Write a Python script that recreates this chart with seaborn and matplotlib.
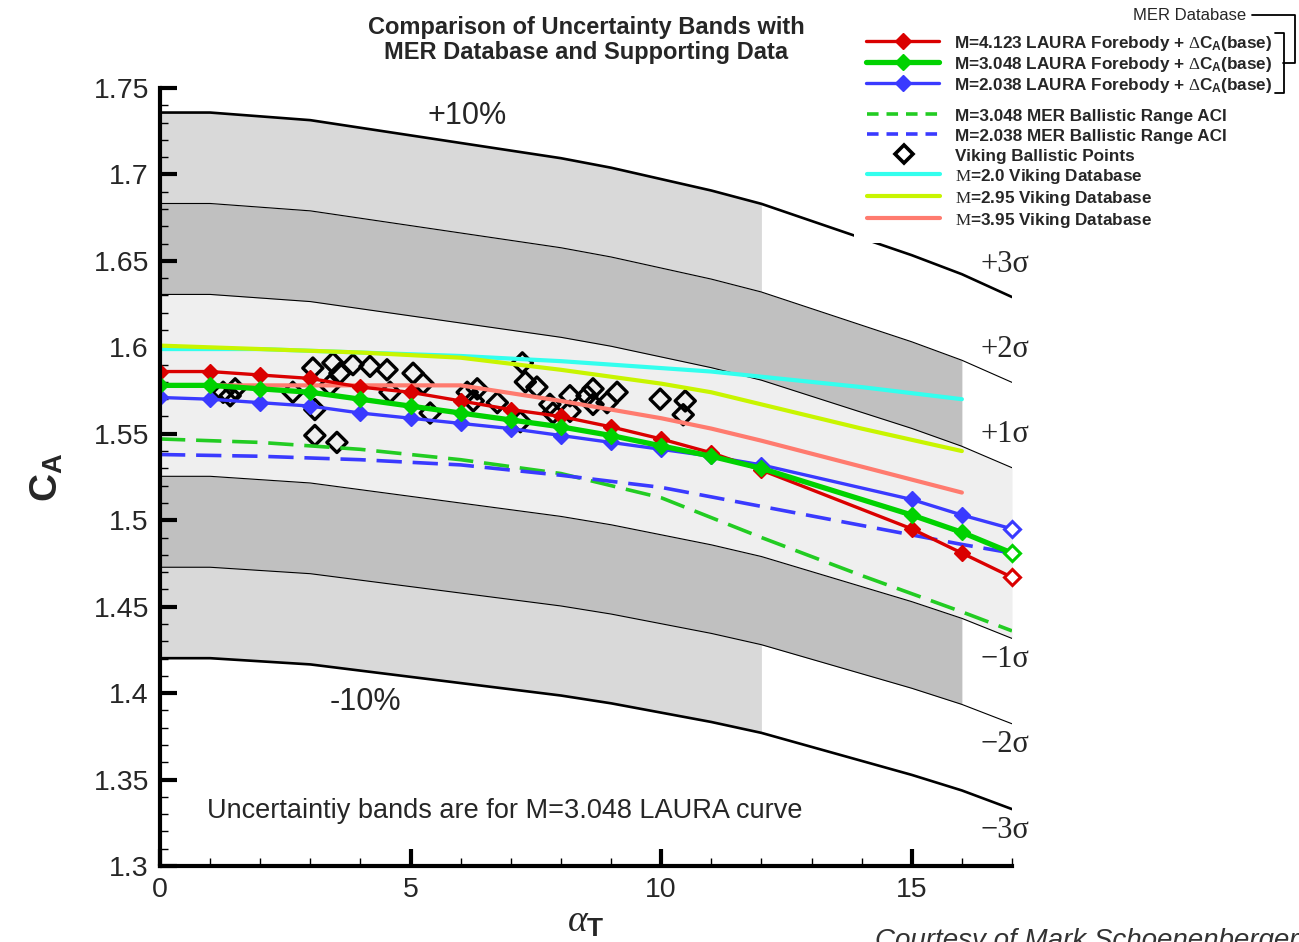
import numpy as np
import matplotlib
matplotlib.use("Agg")
import matplotlib.pyplot as plt
import seaborn as sns
from matplotlib.lines import Line2D
from matplotlib.ticker import MultipleLocator, FormatStrFormatter

# ---- data ----
LAURA_ALPHA = [0, 1, 2, 3, 4, 5, 6, 7, 8, 9, 10, 11, 12, 15, 16, 17]
CA_LAURA_M4123 = [1.586, 1.586, 1.584, 1.582, 1.577, 1.574, 1.569, 1.564, 1.560, 1.554,
                  1.547, 1.539, 1.529, 1.495, 1.481, 1.467]
CA_LAURA_M3048 = [1.578, 1.578, 1.576, 1.574, 1.570, 1.566, 1.562, 1.558, 1.554, 1.549,
                  1.543, 1.537, 1.530, 1.503, 1.493, 1.481]
CA_LAURA_M2038 = [1.571, 1.570, 1.568, 1.566, 1.562, 1.559, 1.556, 1.553, 1.549, 1.545,
                  1.541, 1.537, 1.532, 1.512, 1.503, 1.495]

ACI_ALPHA = [0, 2, 4, 6, 8, 10, 12, 14, 16, 17]
CA_ACI_M3048 = [1.547, 1.545, 1.541, 1.535, 1.527, 1.513, 1.490, 1.468, 1.447, 1.436]
CA_ACI_M2038 = [1.538, 1.537, 1.535, 1.532, 1.526, 1.519, 1.508, 1.497, 1.486, 1.481]

VIK_ALPHA = [0, 2, 4, 6, 8, 10, 11, 12, 14, 16]
CA_VIK_M20 = [1.599, 1.599, 1.597, 1.595, 1.592, 1.588, 1.586, 1.583, 1.577, 1.570]
CA_VIK_M295 = [1.601, 1.599, 1.597, 1.594, 1.587, 1.579, 1.574, 1.567, 1.553, 1.540]
CA_VIK_M395 = [1.578, 1.578, 1.578, 1.578, 1.569, 1.559, 1.553, 1.546, 1.531, 1.516]

# Viking ballistic range points
VB_ALPHA = [1.26, 1.50, 1.40, 2.65, 3.05, 3.09, 3.09, 3.53, 3.45, 3.59, 3.39, 3.85, 4.19,
            4.53, 5.05, 5.25, 4.59, 5.39, 6.13, 6.33, 6.25, 6.73, 7.23, 7.29, 7.52, 7.19,
            7.78, 7.84, 8.18, 8.18, 8.52, 8.64, 8.64, 9.12, 8.92, 9.98, 10.48, 10.44]
VB_CA = [1.574, 1.576, 1.572, 1.574, 1.588, 1.564, 1.549, 1.545, 1.591, 1.585, 1.578, 1.590,
         1.589, 1.587, 1.585, 1.579, 1.574, 1.562, 1.574, 1.576, 1.569, 1.568, 1.591, 1.580,
         1.577, 1.557, 1.567, 1.562, 1.572, 1.563, 1.572, 1.576, 1.567, 1.574, 1.568, 1.570,
         1.569, 1.561]

BAND_3SIGMA = 0.10   # 3 sigma = 10 % of the M=3.048 LAURA curve
Y_TICKS = [1.3, 1.35, 1.4, 1.45, 1.5, 1.55, 1.6, 1.65, 1.7, 1.75]
X_TICKS = [0, 5, 10, 15]

RED = "#DA0000"
GREEN = "#00D200"
BLUE = "#3A3AFF"
GREEN_D = "#22CC22"
CYAN = "#33FFEE"
YELLOW = "#C8F500"
SALMON = "#FF7B6F"

sns.set_style("white")
plt.rcParams['font.family'] = ['Liberation Sans', 'DejaVu Sans']
plt.rcParams['mathtext.fontset'] = 'custom'
plt.rcParams['mathtext.rm'] = 'Liberation Serif'
plt.rcParams['mathtext.it'] = 'Liberation Serif:italic'
plt.rcParams['mathtext.bf'] = 'Liberation Sans:bold'

W, H = 1299, 942
fig = plt.figure(figsize=(W / 100, H / 100), dpi=100)
ax = fig.add_axes([160 / W, 1 - 866 / H, (1012 - 160) / W, (866 - 88) / H])


def px(x, y):
    """pixel position -> figure fraction"""
    return x / W, 1 - y / H


# ---- uncertainty bands around the M=3.048 LAURA curve ----
xa = np.array(LAURA_ALPHA, dtype=float)
center = np.array(CA_LAURA_M3048)
band = {k: center * (1 + k * BAND_3SIGMA / 3) for k in (-3, -2, -1, 1, 2, 3)}

ax.fill_between(xa, band[-1], band[1], color="#EFEFEF", lw=0, zorder=0)
for s in (1, -1):
    ax.fill_between(xa, band[s], band[2 * s], where=xa <= 16, color="#C0C0C0", lw=0, zorder=0)
    ax.fill_between(xa, band[2 * s], band[3 * s], where=xa <= 12, color="#D9D9D9", lw=0, zorder=0)

for k, yb in band.items():
    sns.lineplot(x=xa, y=yb, ax=ax, color="black", lw=1.9 if abs(k) == 3 else 0.8,
                 estimator=None, zorder=1)

# ---- data ----
sns.scatterplot(x=VB_ALPHA, y=VB_CA, ax=ax, marker="D", s=105, facecolors="none",
                edgecolor="black", linewidth=2.4, zorder=3)

for yv, c in [(CA_VIK_M20, CYAN), (CA_VIK_M295, YELLOW), (CA_VIK_M395, SALMON)]:
    sns.lineplot(x=VIK_ALPHA, y=yv, ax=ax, color=c, lw=3.0, estimator=None, zorder=4)

for yv, c in [(CA_ACI_M3048, GREEN_D), (CA_ACI_M2038, BLUE)]:
    sns.lineplot(x=ACI_ALPHA, y=yv, ax=ax, color=c, lw=2.6, estimator=None, zorder=4,
                 linestyle=(0, (7, 3)))

for yv, c, lw in [(CA_LAURA_M2038, BLUE, 2.4), (CA_LAURA_M4123, RED, 2.4),
                  (CA_LAURA_M3048, GREEN, 3.8)]:
    sns.lineplot(x=LAURA_ALPHA, y=yv, ax=ax, color=c, lw=lw, marker="D", markersize=8,
                 markeredgecolor=c, markeredgewidth=1, estimator=None, zorder=5)
    ax.plot(LAURA_ALPHA[-1], yv[-1], marker="D", ms=8, mfc="white", mec=c, mew=2.2,
            zorder=6, clip_on=False)

# ---- axes ----
ax.set_xlim(0, 17)
ax.set_ylim(1.3, 1.75)
ax.set_facecolor("white")
for side in ("top", "right"):
    ax.spines[side].set_visible(False)
for side in ("left", "bottom"):
    ax.spines[side].set_linewidth(3)
    ax.spines[side].set_color("black")
    ax.spines[side].set_zorder(7)
ax.set_xticks(X_TICKS)
ax.set_yticks(Y_TICKS)
ax.xaxis.set_minor_locator(MultipleLocator(1))
ax.yaxis.set_minor_locator(MultipleLocator(0.01))
ax.yaxis.set_major_formatter(FormatStrFormatter("%g"))
ax.tick_params(which="major", direction="in", length=12, width=3, labelsize=20.5, pad=8,
               color="black")
ax.tick_params(which="minor", direction="in", length=5.5, width=1, color="black")
ax.tick_params(left=True, bottom=True, which="both")

ax.set_xlabel(r"$\alpha_\mathbf{T}$", fontsize=27, labelpad=0)
ax.set_ylabel(r"$\mathbf{C}_\mathbf{A}$", fontsize=28, labelpad=20)
ax.set_title("Comparison of Uncertainty Bands with\nMER Database and Supporting Data",
             fontsize=17, fontweight="bold", linespacing=1.08, pad=21)

# band annotations
ax.text(6.13, 1.7338, "+10%", fontsize=22, ha="center", va="center")
ax.text(4.09, 1.3947, "-10%", fontsize=22, ha="center", va="center")
ax.text(0.94, 1.3316, "Uncertaintiy bands are for M=3.048 LAURA curve", fontsize=19.5,
        ha="left", va="center")
for k, yb in band.items():
    lab = ("+" if k > 0 else "\u2212") + f"{abs(k)}\u03c3"
    ax.annotate(lab, xy=(17, yb[-1]), xycoords="data", textcoords="offset pixels",
                xytext=(-32, 33 if k > 0 else -21), ha="left", va="center",
                fontsize=22, family="Liberation Serif", annotation_clip=False)

# ---- legend ----
lp = dict(weight="bold", size=12.3)
lkw = dict(prop=lp, handlelength=4.3, handleheight=1.15, handletextpad=0.88,
           borderaxespad=0, numpoints=1)
h1 = [Line2D([], [], color=RED, lw=2.4, marker="D", ms=8, mec=RED),
      Line2D([], [], color=GREEN, lw=3.8, marker="D", ms=8, mec=GREEN),
      Line2D([], [], color=BLUE, lw=2.4, marker="D", ms=8, mec=BLUE)]
l1 = [r"M=4.123 LAURA Forebody + $\Delta$C$_\mathbf{A}$(base)",
      r"M=3.048 LAURA Forebody + $\Delta$C$_\mathbf{A}$(base)",
      r"M=2.038 LAURA Forebody + $\Delta$C$_\mathbf{A}$(base)"]
leg1 = fig.legend(h1, l1, loc="upper left", bbox_to_anchor=px(866, 34), frameon=False,
                  borderpad=0, labelspacing=0.1, **lkw)

h2 = [Line2D([], [], color=GREEN_D, lw=2.6, ls=(0, (3.2, 2.2))),
      Line2D([], [], color=BLUE, lw=2.6, ls=(0, (3.2, 2.2))),
      Line2D([], [], ls="none", marker="D", ms=9, mfc="none", mec="black", mew=2.6),
      Line2D([], [], color=CYAN, lw=3),
      Line2D([], [], color=YELLOW, lw=3),
      Line2D([], [], color=SALMON, lw=3)]
l2 = ["M=3.048 MER Ballistic Range ACI",
      "M=2.038 MER Ballistic Range ACI",
      "Viking Ballistic Points",
      r"$\mathrm{M}$=2.0 Viking Database",
      r"$\mathrm{M}$=2.95 Viking Database",
      r"$\mathrm{M}$=3.95 Viking Database"]
leg2 = fig.legend(h2, l2, loc="upper left", bbox_to_anchor=px(854, 94), frameon=True,
                  facecolor="white", edgecolor="none", fancybox=False, framealpha=1,
                  borderpad=0.75, labelspacing=0.165, **lkw)

# "MER Database" bracket
fig.text(*px(1246, 15), "MER Database", fontsize=12, ha="right", va="center")
for xs, ys in [([1252, 1295, 1295, 1283], [15, 15, 63, 63]),
               ([1275, 1284, 1284, 1275], [33, 33, 93, 93])]:
    fx, fy = zip(*[px(a, b) for a, b in zip(xs, ys)])
    fig.add_artist(Line2D(fx, fy, color="black", lw=1.3, transform=fig.transFigure))

fig.text(*px(875, 928), "Courtesy of Mark Schoenenberger", fontsize=20, style="italic",
         color="#333333", ha="left", va="top")

fig.savefig("out.png", dpi=100)
